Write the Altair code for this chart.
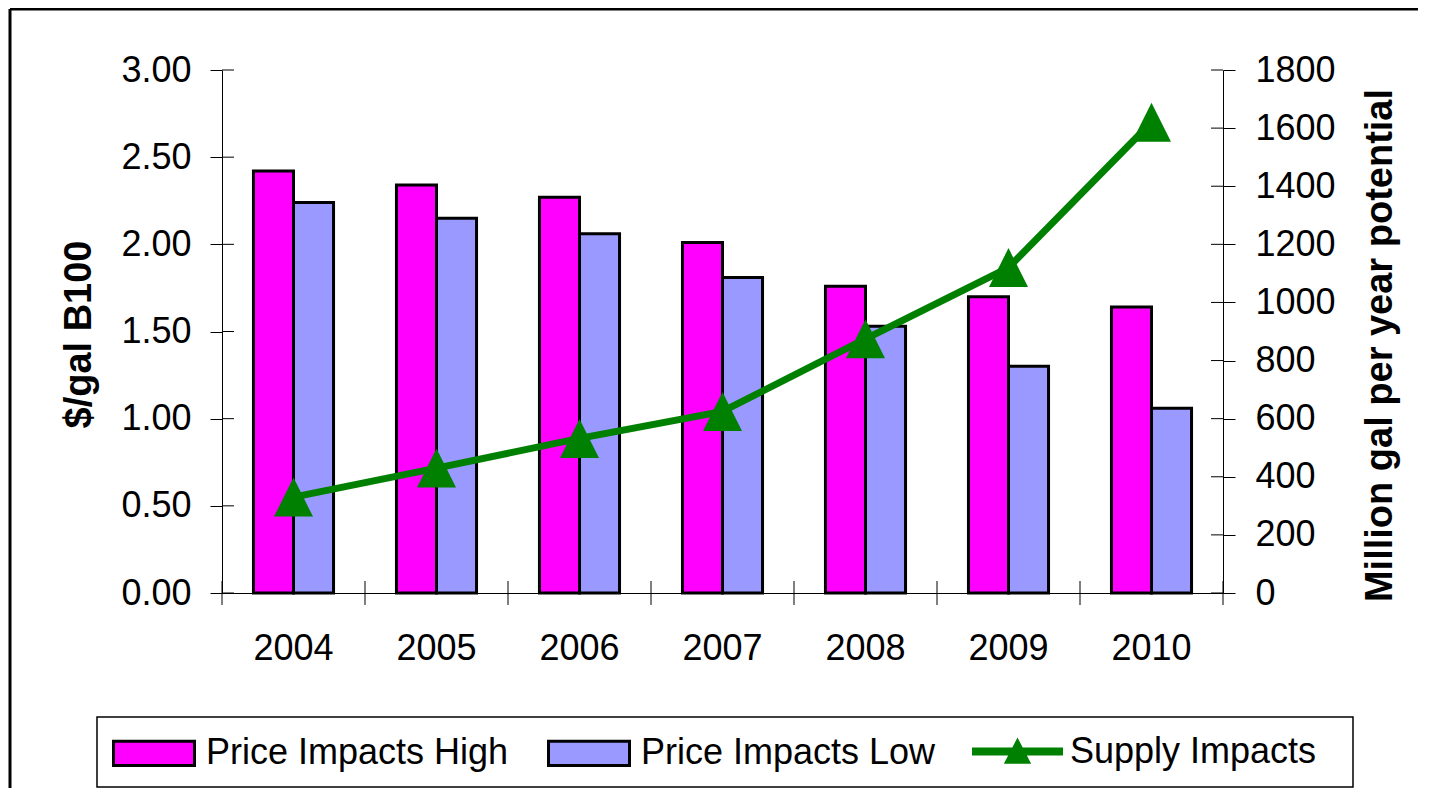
import altair as alt
import pandas as pd

years = ["2004", "2005", "2006", "2007", "2008", "2009", "2010"]
price_high = [2.42, 2.34, 2.27, 2.01, 1.76, 1.70, 1.64]
price_low = [2.24, 2.15, 2.06, 1.81, 1.53, 1.30, 1.06]
supply = [330, 430, 532, 625, 875, 1120, 1620]
series_names = ["Price Impacts High", "Price Impacts Low", "Supply Impacts"]
left_ticks = [0.0, 0.5, 1.0, 1.5, 2.0, 2.5, 3.0]
right_ticks = [0, 200, 400, 600, 800, 1000, 1200, 1400, 1600, 1800]

W, H = 1001, 523
FONT = "Liberation Sans"
MAGENTA = "#FF00FF"
LAVENDER = "#9999FF"
GREEN = "#008000"

bars_df = pd.DataFrame({
    "year": years * 2,
    "series": [series_names[0]] * len(years) + [series_names[1]] * len(years),
    "value": price_high + price_low,
})
line_df = pd.DataFrame({"year": years, "series": series_names[2], "supply": supply})
one = pd.DataFrame({"a": [0]})

xenc = alt.X("year:N", sort=years,
             scale=alt.Scale(paddingInner=0.44, paddingOuter=0.22),
             axis=alt.Axis(title=None, labelAngle=0, labelFontSize=36, labelPadding=26,
                           tickSize=12, tickOpacity=0, domainColor="black", domainWidth=1,
                           labelColor="black", labelFont=FONT))

border_top = alt.Chart(one).mark_rule(color="black", strokeWidth=3).encode(
    x=alt.value(-212), x2=alt.value(W + 300), y=alt.value(-61))
border_left = alt.Chart(one).mark_rule(color="black", strokeWidth=3).encode(
    x=alt.value(-212), y=alt.value(-61), y2=alt.value(H + 300))

legend_box = alt.Chart(one).mark_rect(filled=False, stroke="black", strokeWidth=1.5).encode(
    x=alt.value(-125), x2=alt.value(1131), y=alt.value(647), y2=alt.value(717))

bars = alt.Chart(bars_df).mark_bar(stroke="black", strokeWidth=3).encode(
    x=xenc,
    xOffset=alt.XOffset("series:N", sort=series_names[:2],
                        scale=alt.Scale(paddingInner=0, paddingOuter=0)),
    y=alt.Y("value:Q", scale=alt.Scale(domain=[0, 3], nice=False),
            axis=alt.Axis(orient="left", values=left_ticks, format=".2f",
                          title="$/gal B100", titleFontSize=38, titleFontWeight="bold",
                          titleAngle=270, titleX=-143, titleY=264, titleAlign="center",
                          titleBaseline="middle", titleColor="black", titleFont=FONT,
                          labelFontSize=36, labelPadding=19, labelColor="black", labelFont=FONT,
                          tickSize=12, tickColor="black", domainColor="black", grid=False)),
    color=alt.Color("series:N",
                    scale=alt.Scale(domain=series_names[:2], range=[MAGENTA, LAVENDER]),
                    legend=alt.Legend(orient="none", legendX=-110, legendY=641,
                                      direction="horizontal", title=None,
                                      symbolType="M-1,-0.3H1V0.3H-1Z", symbolSize=6561,
                                      symbolStrokeColor="black", symbolStrokeWidth=3,
                                      labelFontSize=36, labelFont=FONT, labelColor="black",
                                      labelOffset=10, columnPadding=33, padding=0,
                                      labelLimit=1000)),
)

ltick = alt.Chart(pd.DataFrame({"v": left_ticks})).mark_rule(color="black", strokeWidth=1).encode(
    y=alt.Y("v:Q", scale=alt.Scale(domain=[0, 3], nice=False), axis=None),
    x=alt.value(0), x2=alt.value(12))

rtick = alt.Chart(pd.DataFrame({"v": right_ticks})).mark_rule(color="black", strokeWidth=1).encode(
    y=alt.Y("v:Q", scale=alt.Scale(domain=[0, 1800], nice=False), axis=None),
    x=alt.value(W - 12), x2=alt.value(W))

xticks = alt.Chart(pd.DataFrame({"year": years})).mark_rule(
    color="black", strokeWidth=1, xOffset=-71.5).encode(
    x=alt.X("year:N", sort=years), y=alt.value(H - 12), y2=alt.value(H + 12))

xend = alt.Chart(pd.DataFrame({"year": years[-1:]})).mark_rule(
    color="black", strokeWidth=1, xOffset=71.5).encode(
    x=alt.X("year:N", sort=years), y=alt.value(H - 12), y2=alt.value(H + 12))

line = alt.Chart(line_df).mark_line(color=GREEN, strokeWidth=7).encode(
    x=alt.X("year:N", sort=years),
    y=alt.Y("supply:Q", scale=alt.Scale(domain=[0, 1800], nice=False),
            axis=alt.Axis(orient="right", values=right_ticks, format="d",
                          title="Million gal per year potential", titleFontSize=38,
                          titleFontWeight="bold", titleAngle=270, titleX=157, titleY=275,
                          titleAlign="center", titleBaseline="middle", titleColor="black",
                          titleFont=FONT, labelFontSize=36, labelPadding=20,
                          labelColor="black", labelFont=FONT, tickSize=12,
                          tickColor="black", domainColor="black", grid=False)),
)

points = alt.Chart(line_df).mark_point(shape="M0,-1L1,1L-1,1Z", filled=True, size=1521,
                                       opacity=1).encode(
    x=alt.X("year:N", sort=years),
    y=alt.Y("supply:Q", scale=alt.Scale(domain=[0, 1800], nice=False), axis=None),
    fill=alt.Fill("series:N", scale=alt.Scale(domain=series_names[2:], range=[GREEN]),
                  legend=alt.Legend(orient="none", legendX=750, legendY=636,
                                    direction="horizontal", title=None,
                                    symbolType="M-1,-0.088H1V0.088H-1Z M0,-0.31L0.3,0.27H-0.3Z",
                                    symbolSize=8281, symbolStrokeWidth=0,
                                    labelFontSize=36, labelFont=FONT, labelColor="black",
                                    labelOffset=7, padding=0, labelLimit=1000)),
)

chart = alt.layer(border_top, border_left, legend_box, bars, ltick, rtick, xticks, xend,
                  line, points).resolve_scale(
    y="independent", color="independent", fill="independent"
).properties(
    width=W, height=H,
    padding={"left": 214, "top": 62, "right": 195, "bottom": 195},
    autosize=alt.AutoSizeParams(type="none"),
).configure(font=FONT).configure_view(stroke=None)

chart.save("out.html", embed_options={"renderer": "svg", "actions": False})
